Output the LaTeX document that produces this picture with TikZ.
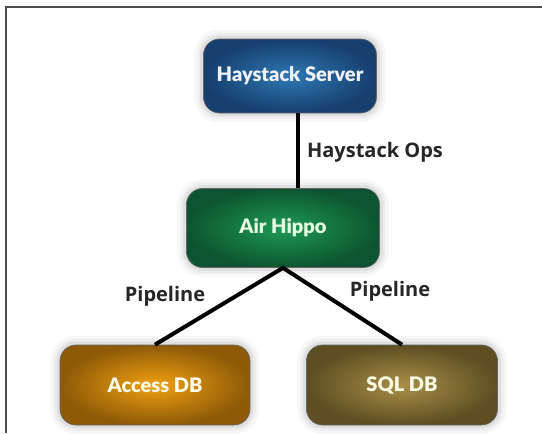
\documentclass[tikz,border=0pt]{standalone}
\usepackage{fontspec}
\newfontfamily\boxfont{Lato}[BoldFont={* Black}]
\newfontfamily\labfont{Open Sans}
\definecolor{frameC}{HTML}{4A4A4A}
\definecolor{blueIn}{HTML}{2F78B4}
\definecolor{blueOut}{HTML}{163F6E}
\definecolor{greenIn}{HTML}{1E9A55}
\definecolor{greenOut}{HTML}{0D5530}
\definecolor{orangeIn}{HTML}{F0A010}
\definecolor{orangeOut}{HTML}{8E5A08}
\definecolor{oliveIn}{HTML}{A89048}
\definecolor{oliveOut}{HTML}{5E4E22}
\tikzset{
  glow/.style={
    preaction={draw=black, draw opacity=0.03, line width=14pt},
    preaction={draw=black, draw opacity=0.04, line width=9pt},
    preaction={draw=black, draw opacity=0.06, line width=5pt},
  },
  hbox/.style={glow, rounded corners=12pt, shading=radial, draw=black!60, line width=0.5pt,
    font=\boxfont\bfseries\fontsize{15}{17}\selectfont, align=center, inner sep=0pt},
  lab/.style={font=\labfont\bfseries\fontsize{15}{18}\selectfont, text=black!85},
  conn/.style={line width=3pt, black}
}
\begin{document}
\begin{tikzpicture}[x=0.75pt,y=-0.75pt]
\useasboundingbox[fill=white] (0,0) rectangle (542,433);
\draw[frameC, line width=1.2pt] (6,433) -- (6,7) -- (542,7);
\node[hbox, inner color=blueIn, outer color=blueOut, minimum width=129.75pt, minimum height=55.5pt, text=blue!5] (hs) at (290,76) {Haystack Server};
\node[hbox, inner color=greenIn, outer color=greenOut, minimum width=144.75pt, minimum height=59.25pt, text=green!10] (ah) at (283,228) {Air Hippo};
\node[hbox, inner color=orangeIn, outer color=orangeOut, minimum width=142.5pt, minimum height=60pt, text=yellow!8] (ad) at (155,385) {Access DB};
\node[hbox, inner color=oliveIn, outer color=oliveOut, minimum width=143.25pt, minimum height=60pt, text=yellow!8] (sq) at (402,385) {SQL DB};
\coordinate (vx) at (298,0);
\draw[conn] (hs.south -| vx) -- (ah.north -| vx);
\draw[conn] (ad.north) -- (ah.south) -- (sq.north);
\node[lab] (ops) at (375,152) {Haystack Ops};
\node[lab] (pl) at (165,296) {Pipeline};
\node[lab] (pr) at (390,291) {Pipeline};
\end{tikzpicture}
\end{document}
